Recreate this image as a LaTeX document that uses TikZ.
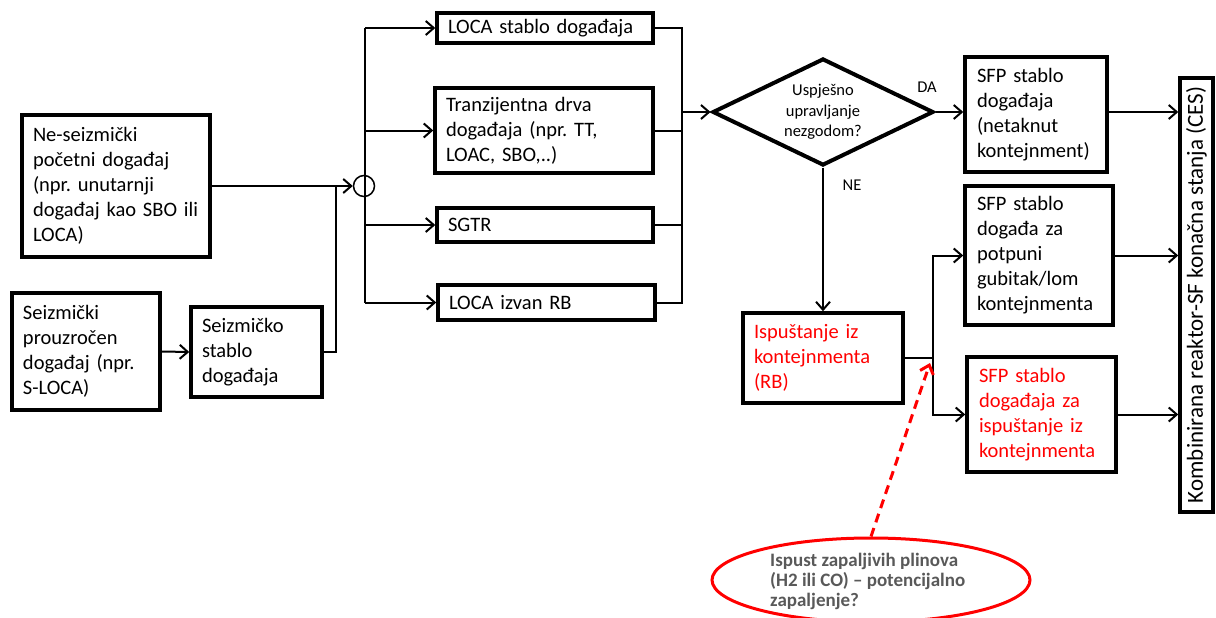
\documentclass[tikz,border=0pt]{standalone}
\usepackage{fontspec}
\setmainfont{Carlito}
\usetikzlibrary{arrows.meta,shapes.geometric}
\definecolor{myred}{RGB}{255,0,0}
\definecolor{mygray}{RGB}{89,89,89}
\frenchspacing
\tikzset{
  box/.style={draw, line width=3.5pt, align=left, inner xsep=11pt, inner ysep=0pt,
    font=\fontsize{20.5}{25}\selectfont},
  conn/.style={line width=2pt},
  arr/.style={conn, -{Straight Barb[length=8pt,width=14pt]}},
  lbl/.style={font=\fontsize{16.5}{20}\selectfont, inner sep=0pt},
}
\begin{document}
\begin{tikzpicture}[x=1pt,y=-1pt]
\useasboundingbox (0,0) rectangle (1216,618);
% boxes
\node[box, minimum width=188pt, minimum height=142pt, text width=166pt] (ne) at (116,186)
 {Ne-seizmički\\početni događaj\\(npr. unutarnji\\događaj kao SBO ili\\LOCA)};
\node[box, minimum width=148pt, minimum height=117pt, text width=126pt] (sz) at (86,351.5)
 {Seizmički\\prouzročen\\događaj (npr.\\S-LOCA)};
\node[box, minimum width=131pt, minimum height=90pt, text width=109pt] (szs) at (256.5,352)
 {Seizmičko\\stablo\\događaja};
\node[draw, circle, line width=1.5pt, minimum size=21pt, inner sep=0pt] (c) at (364,186) {};
\node[box, minimum width=216pt, minimum height=30pt, text width=194pt] (loca) at (545,28)
 {LOCA stablo događaja};
\node[box, minimum width=218pt, minimum height=85pt, text width=196pt] (tran) at (544,130.5)
 {Tranzijentna drva\\događaja (npr. TT,\\LOAC, SBO,..)};
\node[box, minimum width=216pt, minimum height=34pt, text width=194pt] (sgtr) at (545,225)
 {SGTR};
\node[box, minimum width=217pt, minimum height=35pt, text width=195pt] (lizv) at (546.5,302.5)
 {LOCA izvan RB};
\node[draw, diamond, aspect=2.07, line width=4pt, inner sep=0pt, minimum width=221pt,
  minimum height=107pt, align=center, font=\fontsize{16.5}{20.5}\selectfont] (dia) at (823,112)
 {Uspješno\\upravljanje\\nezgodom?};
\node[box, minimum width=142pt, minimum height=115pt, text width=118pt, inner xsep=12pt] (sfp1) at (1036,114.5)
 {SFP stablo\\događaja\\(netaknut\\kontejnment)};
\node[box, minimum width=148pt, minimum height=139pt, text width=124pt, inner xsep=12pt] (sfp2) at (1039,255.5)
 {SFP stablo\\događa za\\potpuni\\gubitak/lom\\kontejnmenta};
\node[box, minimum width=149pt, minimum height=115pt, text width=125pt, inner xsep=12pt, text=myred] (sfp3) at (1041.5,414.5)
 {SFP stablo\\događaja za\\ispuštanje iz\\kontejnmenta};
\node[box, minimum width=160pt, minimum height=90pt, text width=138pt, text=myred] (isp) at (823,358)
 {Ispuštanje iz\\kontejnmenta\\(RB)};
\node[draw, line width=3.5pt, rotate=90, minimum width=434pt, minimum height=33pt, inner sep=0pt,
  font=\fontsize{23}{25}\selectfont] (ces) at (1196.5,295)
 {Kombinirana reaktor-SF konačna stanja (CES)};
\node[draw=myred, ellipse, line width=3pt, minimum width=318pt, minimum height=84pt, inner sep=0pt] (ell) at (871,580) {};
\node[align=left, text=mygray, inner sep=0pt, anchor=west, font=\bfseries\fontsize{19}{20}\selectfont] (elltxt) at (770,581)
 {Ispust zapaljivih plinova\\(H2 ili CO) -- potencijalno\\zapaljenje?};
% labels
\node[lbl] (da) at (927,87) {DA};
\node[lbl] (nee) at (852,185) {NE};
% coordinates
\coordinate (j1) at (336,186);
\coordinate (vt) at (365,28);
\coordinate (vb) at (365,302.5);
\coordinate (rt) at (682,28);
\coordinate (rb) at (682,302.5);
\coordinate (j2) at (933,358);
\coordinate (j3) at (930,363);
% connectors
\draw[arr] (ne.east) -- (c.west);
\draw[arr] (sz.east) -- (szs.west);
\draw[conn] (szs.east) -| (j1);
\draw[conn] (vt) -- (vb);
\draw[arr] (vt) -- (loca.west);
\draw[arr] (vt |- tran.west) -- (tran.west);
\draw[arr] (vt |- sgtr.west) -- (sgtr.west);
\draw[arr] (vb) -- (lizv.west);
\draw[conn] (loca.east) -- (rt) -- (rb) -- (lizv.east);
\draw[conn] (tran.east) -- (tran.east -| rt);
\draw[conn] (sgtr.east) -- (sgtr.east -| rt);
\draw[arr] (rt |- dia.west) -- (dia.west);
\draw[arr] (dia.east) -- (dia.east -| sfp1.west);
\draw[arr] (dia.south) -- (isp.north);
\draw[conn] (isp.east) -- (j2);
\draw[arr] (j2) |- (sfp2.west);
\draw[arr] (j2) |- (sfp3.west);
\draw[arr] (sfp1.east |- dia.east) -- (dia.east -| ces.north);
\draw[arr] (sfp2.east) -- (sfp2.east -| ces.north);
\draw[arr] (sfp3.east) -- (sfp3.east -| ces.north);
\draw[myred, line width=3pt, dash pattern=on 9pt off 6pt, -{Straight Barb[length=8pt,width=14pt]}] (ell.north) -- (j3);
\end{tikzpicture}
\end{document}
